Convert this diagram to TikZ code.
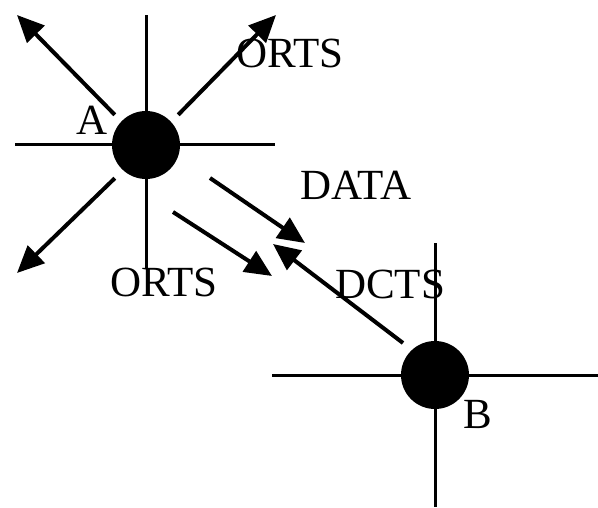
\documentclass[tikz,border=0pt]{standalone}
\usepackage{fontspec}
\setmainfont{Liberation Serif}
\usetikzlibrary{arrows.meta}
\begin{document}
\begin{tikzpicture}[x=1pt,y=-1pt,
  station/.style={circle, fill=black, minimum size=68pt, inner sep=0pt},
  spoke/.style={line width=3pt},
  msg/.style={line width=4pt, -{Triangle[length=27pt,width=24pt]}},
  lab/.style={font=\fontsize{43}{43}\selectfont, inner sep=0pt, anchor=base west}]
\useasboundingbox (0,0) rectangle (598,508);
% stations
\node[station] (A) at (146,145) {};
\node[station] (B) at (435,375) {};
% free ends
\coordinate (Aw) at (15,145);
\coordinate (Ae) at (275,145);
\coordinate (An) at (146,15);
\coordinate (As) at (146,268);
\coordinate (Anw) at (17,15);
\coordinate (Ane) at (276,15);
\coordinate (Asw) at (17,273);
\coordinate (Bw) at (272,375);
\coordinate (Be) at (598,375);
\coordinate (Bn) at (435,243);
\coordinate (Bs) at (435,507);
% spokes of A
\draw[spoke] (A) -- (Aw);
\draw[spoke] (A) -- (Ae);
\draw[spoke] (A) -- (An);
\draw[spoke] (A) -- (As);
\draw[msg] (A.north west) ++(-7,-6) -- (Anw);
\draw[msg] (A.north east) ++(8,-6) -- (Ane);
\draw[msg] (A.south west) ++(-7,9) -- (Asw);
% spokes of B
\draw[spoke] (B) -- (Bw);
\draw[spoke] (B) -- (Be);
\draw[spoke] (B) -- (Bn);
\draw[spoke] (B) -- (Bs);
% messages between A and B
\coordinate (d1) at (210,178);
\coordinate (d2) at (305,243);
\coordinate (o1) at (173,212);
\coordinate (o2) at (272,276);
\coordinate (c1) at (403,343);
\coordinate (c2) at (273,244);
\draw[msg] (d1) -- (d2);
\draw[msg] (o1) -- (o2);
\draw[msg] (c1) -- (c2);
% labels
\node[lab] (la) at (76,135) {A};
\node[lab] (lb) at (463,428) {B};
\node[lab] (o1l) at (236,68) {ORTS};
\node[lab] (o2l) at (110,297) {ORTS};
\node[lab] (dl) at (300,200) {DATA};
\node[lab] (cl) at (335,299) {DCTS};
\end{tikzpicture}
\end{document}
